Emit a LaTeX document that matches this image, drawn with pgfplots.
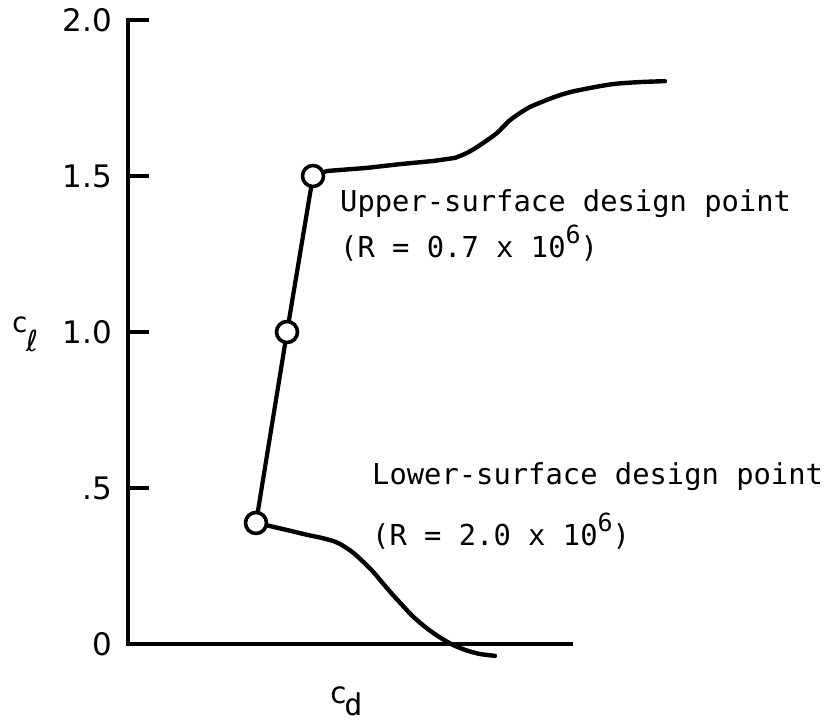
\documentclass[border=0pt]{standalone}
\usepackage{pgfplots}
\pgfplotsset{compat=1.18}
\usepackage{fontspec}
\setmainfont{DejaVu Sans}
\newfontfamily\lettering{DejaVu Sans Mono}
\begin{document}
\begin{tikzpicture}
\path[use as bounding box] (-128pt,-81pt) rectangle (705pt,644pt);
\begin{axis}[
  at={(0,0)}, anchor=south west,
  scale only axis, width=443pt, height=624pt,
  xmin=0, xmax=4.43, ymin=0, ymax=2,
  axis lines=left,
  axis line style={line width=4.2pt, -, line cap=rect},
  xtick=\empty,
  ytick={0,0.5,1,1.5,2},
  yticklabels={0,.5,1.0,1.5,2.0},
  tick align=inside,
  major tick length=21pt,
  tick style={line width=3.8pt, black},
  /pgf/number format/assume math mode=true,
  yticklabel style={font=\fontsize{31}{31}\selectfont, inner sep=0pt, xshift=-16pt},
  clip=false,
]
% upper-surface branch: straight part
\addplot[black, line width=4.4pt, line join=round, line cap=round] coordinates {
 (1.85,1.500) (1.99,1.516) (2.39,1.526) (2.72,1.538) (3.05,1.548) (3.27,1.558)
};
% upper-surface branch: rise
\addplot[black, line width=4.4pt, line join=round, line cap=round, smooth, tension=0.5] coordinates {
 (3.27,1.558) (3.39,1.574) (3.52,1.599) (3.69,1.638) (3.82,1.679) (3.99,1.716) (4.12,1.735)
 (4.29,1.756) (4.45,1.771) (4.72,1.788) (4.89,1.796) (5.12,1.801) (5.37,1.804)
};
% lower-surface branch
\addplot[black, line width=4.4pt, line join=round, line cap=round, smooth, tension=0.5] coordinates {
 (1.28,0.388) (1.42,0.378) (1.62,0.363) (1.79,0.350) (1.95,0.339) (2.07,0.328)
 (2.15,0.315) (2.25,0.293) (2.35,0.264) (2.45,0.232) (2.55,0.194) (2.65,0.157)
 (2.75,0.122) (2.85,0.088) (2.99,0.050) (3.12,0.021) (3.25,-0.003) (3.39,-0.021)
 (3.52,-0.032) (3.67,-0.038)
};
% design points
\addplot[black, line width=4.2pt, line join=round, mark=*, mark size=10.5pt,
  mark options={fill=white, line width=3.6pt, solid}] coordinates {
 (1.28,0.388) (1.59,1.0) (1.85,1.5)
};
\node[anchor=base west, inner sep=0pt, font=\lettering\fontsize{28.8}{28.8}\selectfont] at (axis cs:2.12,1.385) {Upper-surface design point};
\node[anchor=base west, inner sep=0pt, font=\lettering\fontsize{28.8}{28.8}\selectfont] at (axis cs:2.12,1.240) {(R = 0.7 x 10\raisebox{14pt}{\fontsize{25}{25}\selectfont 6})};
\node[anchor=base west, inner sep=0pt, font=\lettering\fontsize{28.8}{28.8}\selectfont] at (axis cs:2.44,0.510) {Lower-surface design point};
\node[anchor=base west, inner sep=0pt, font=\lettering\fontsize{28.8}{28.8}\selectfont] at (axis cs:2.44,0.317) {(R = 2.0 x 10\raisebox{14pt}{\fontsize{25}{25}\selectfont 6})};
% axis symbols
\node[anchor=base west, inner sep=0pt, font=\lettering\fontsize{28}{28}\selectfont] at (axis cs:0,0.997) [xshift=-117pt] {c\hspace{-2pt}\raisebox{-19pt}{\fontsize{29}{29}\selectfont\rmfamily ℓ}};
\node[anchor=base west, inner sep=0pt, font=\lettering\fontsize{30}{30}\selectfont] at (axis cs:2.01,-0.19) {c\hspace{-3pt}\raisebox{-12pt}{d}};
\end{axis}
\end{tikzpicture}
\end{document}
